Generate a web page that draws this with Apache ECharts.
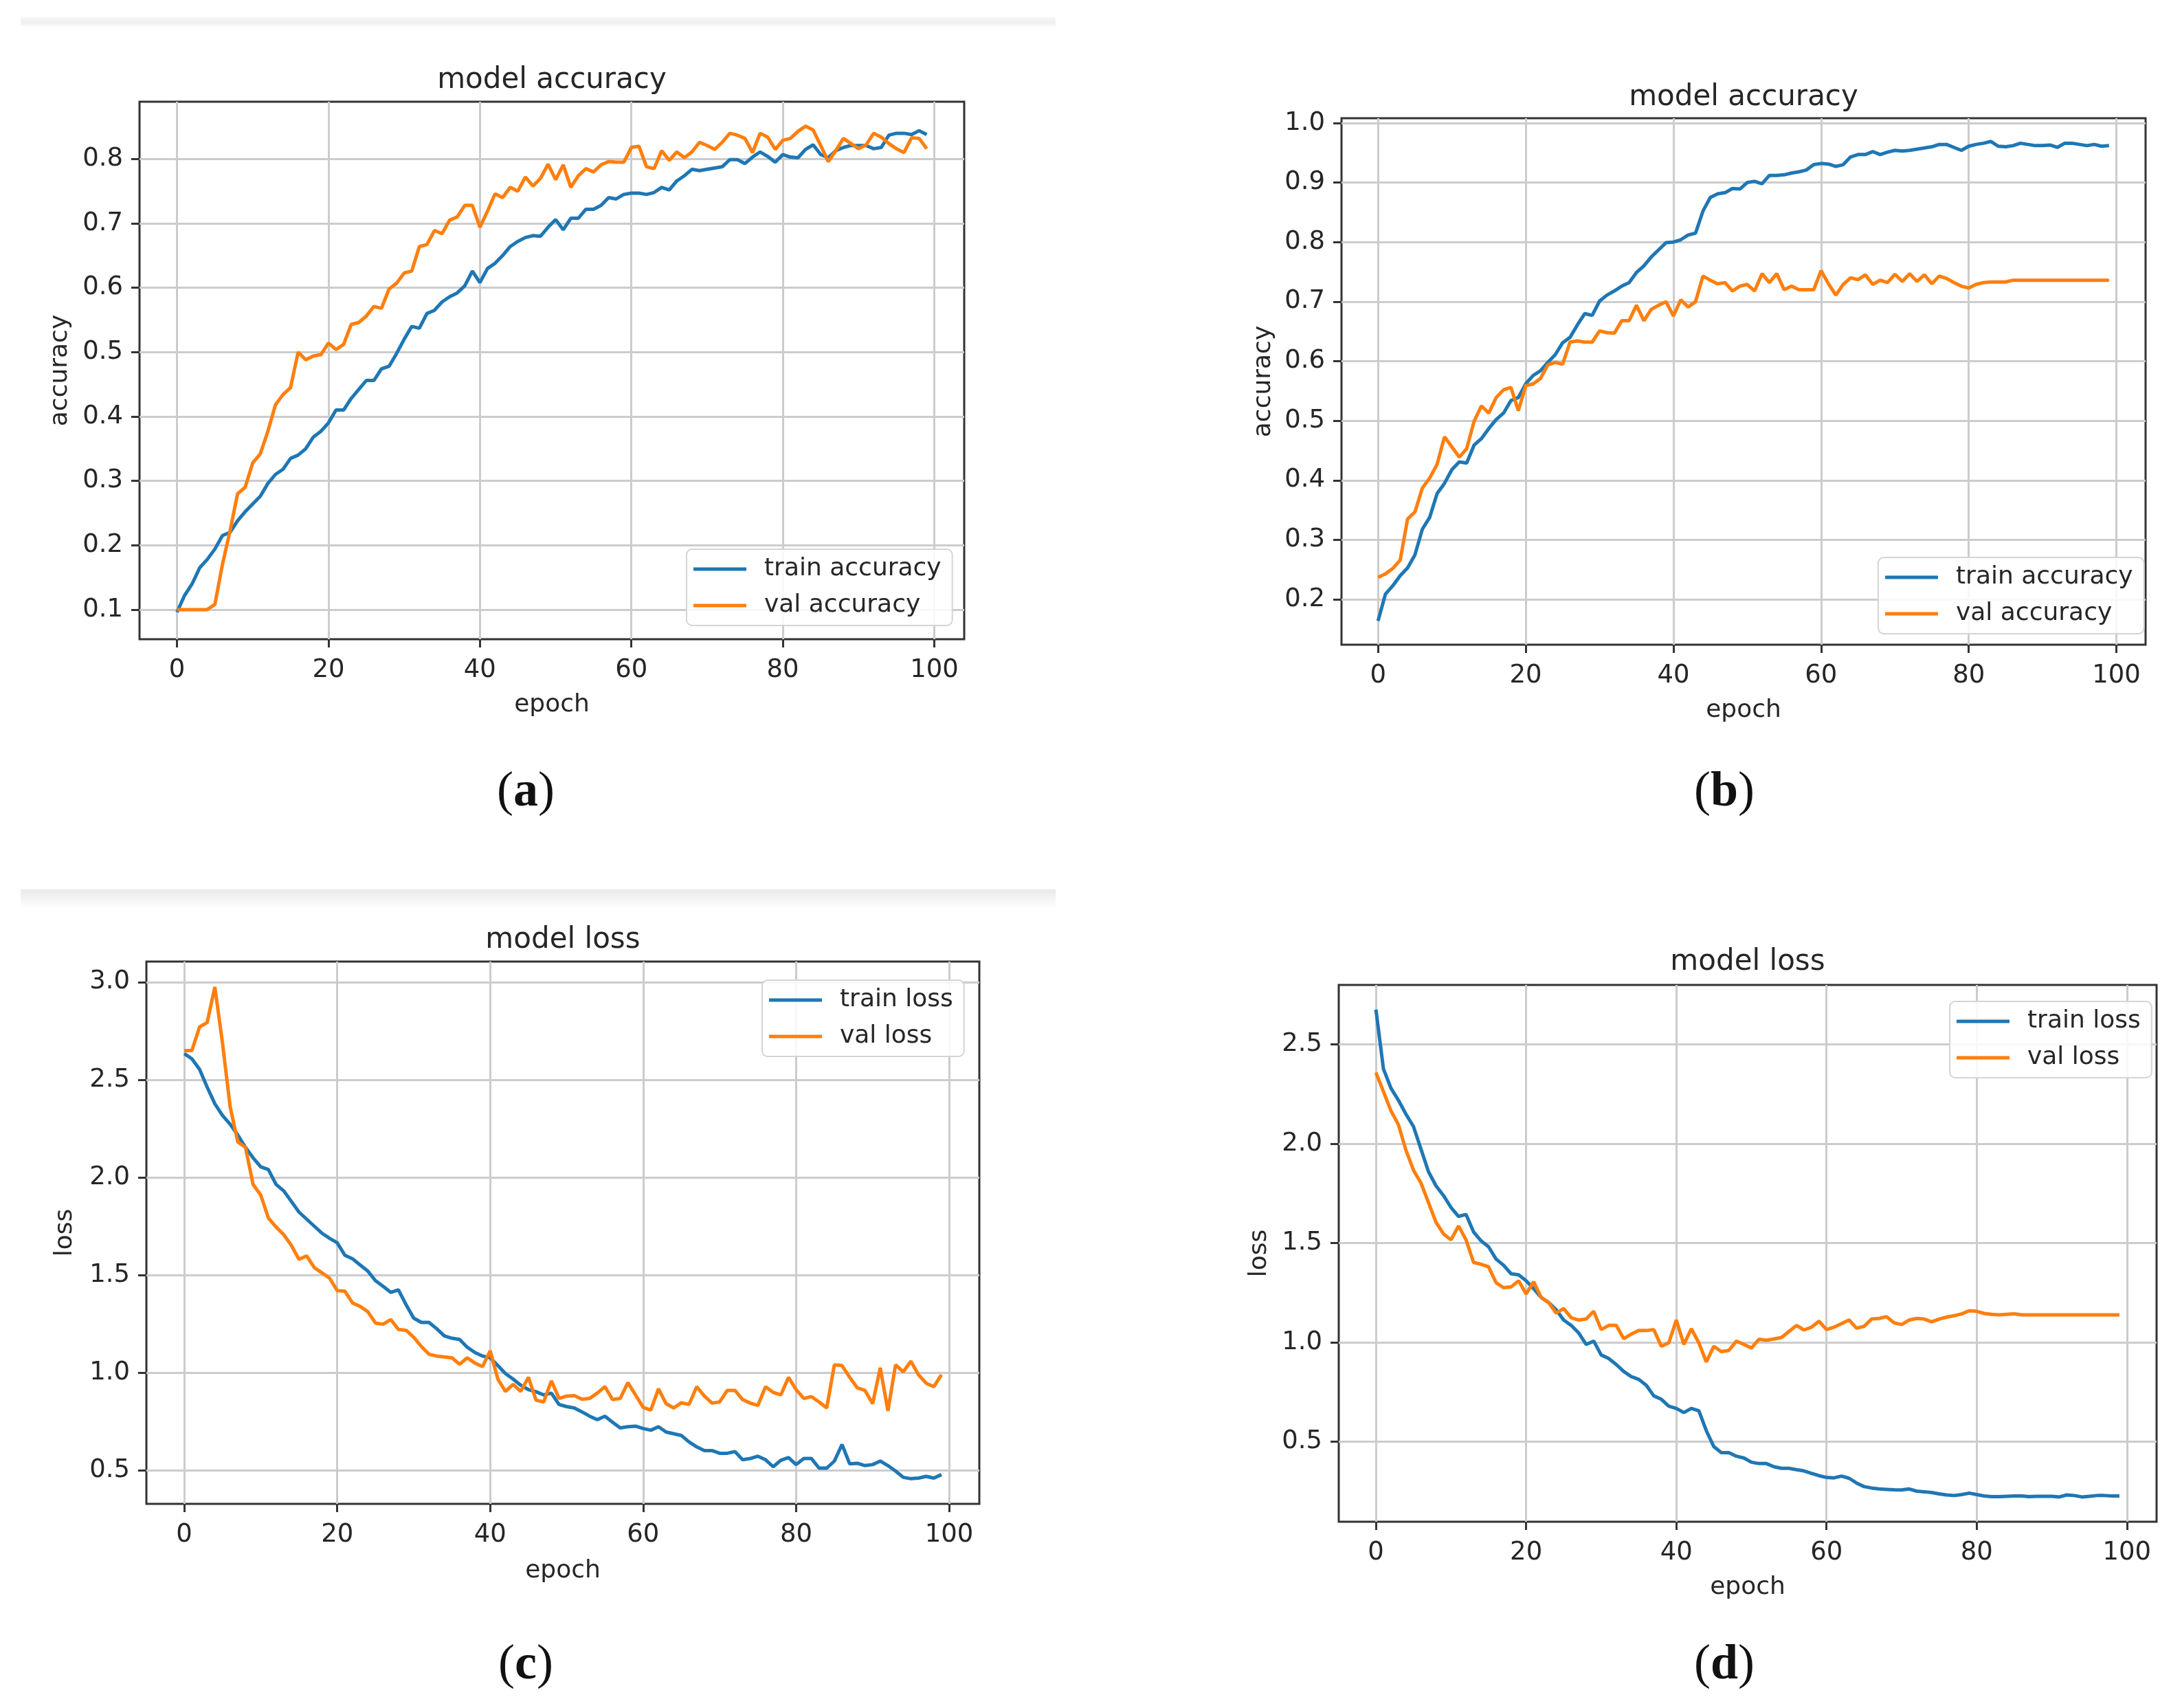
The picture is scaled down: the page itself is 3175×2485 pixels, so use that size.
<!DOCTYPE html>
<html>
<head>
<meta charset="utf-8">
<script src="https://cdn.jsdelivr.net/npm/echarts@6/dist/echarts.min.js"></script>
<style>
html,body{margin:0;padding:0;background:#ffffff;}
#chart{width:3175px;height:2485px;}
</style>
</head>
<body>
<div id="chart"></div>
<script>
// ---------- data ----------
const epochs = Array.from({length: 100}, (_, i) => i);
const xTicks = [0, 20, 40, 60, 80, 100];
const yTicksA = [0.1, 0.2, 0.3, 0.4, 0.5, 0.6, 0.7, 0.8];
const yTicksB = [0.2, 0.3, 0.4, 0.5, 0.6, 0.7, 0.8, 0.9, 1.0];
const yTicksC = [0.5, 1.0, 1.5, 2.0, 2.5, 3.0];
const yTicksD = [0.5, 1.0, 1.5, 2.0, 2.5];

const accTrainA = [
 0.096,0.122,0.140,0.165,0.178,0.194,0.215,0.220,0.238,0.252,
 0.264,0.276,0.296,0.310,0.318,0.335,0.340,0.350,0.368,0.377,
 0.390,0.410,0.410,0.428,0.442,0.456,0.456,0.474,0.478,0.498,
 0.520,0.540,0.537,0.560,0.565,0.578,0.586,0.592,0.603,0.626,
 0.608,0.630,0.638,0.650,0.664,0.672,0.678,0.681,0.680,0.694,
 0.706,0.690,0.708,0.708,0.722,0.722,0.728,0.740,0.738,0.745,
 0.747,0.747,0.745,0.748,0.756,0.752,0.766,0.774,0.784,0.782,
 0.784,0.786,0.788,0.799,0.799,0.793,0.803,0.811,0.804,0.795,
 0.807,0.803,0.802,0.815,0.822,0.807,0.802,0.813,0.818,0.821,
 0.821,0.821,0.816,0.818,0.837,0.840,0.840,0.838,0.844,0.838
];
const accValA = [
 0.100,0.100,0.100,0.100,0.100,0.108,0.170,0.222,0.280,0.290,
 0.328,0.342,0.377,0.418,0.434,0.445,0.500,0.488,0.494,0.496,
 0.514,0.504,0.512,0.543,0.546,0.556,0.571,0.568,0.598,0.607,
 0.623,0.626,0.664,0.667,0.689,0.684,0.705,0.710,0.728,0.728,
 0.694,0.719,0.746,0.740,0.756,0.750,0.772,0.758,0.770,0.792,
 0.768,0.791,0.756,0.774,0.785,0.780,0.791,0.796,0.795,0.795,
 0.818,0.820,0.788,0.785,0.813,0.798,0.811,0.802,0.811,0.826,
 0.821,0.815,0.826,0.840,0.837,0.832,0.810,0.840,0.834,0.815,
 0.829,0.832,0.843,0.851,0.845,0.821,0.796,0.813,0.832,0.824,
 0.816,0.822,0.840,0.834,0.824,0.816,0.810,0.833,0.832,0.816
];
const accTrainB = [
 0.164,0.209,0.223,0.240,0.253,0.275,0.318,0.338,0.378,0.395,
 0.418,0.431,0.429,0.459,0.470,0.487,0.502,0.513,0.534,0.539,
 0.562,0.576,0.584,0.598,0.611,0.631,0.640,0.661,0.680,0.677,
 0.701,0.711,0.718,0.726,0.732,0.749,0.760,0.775,0.787,0.799,
 0.800,0.804,0.812,0.815,0.852,0.875,0.881,0.883,0.890,0.889,
 0.900,0.902,0.898,0.912,0.912,0.913,0.916,0.918,0.921,0.930,
 0.932,0.931,0.927,0.930,0.943,0.947,0.947,0.952,0.947,0.951,
 0.954,0.953,0.954,0.956,0.958,0.960,0.964,0.964,0.959,0.954,
 0.961,0.964,0.966,0.969,0.961,0.960,0.962,0.966,0.964,0.962,
 0.962,0.963,0.959,0.966,0.966,0.964,0.962,0.964,0.961,0.962
];
const accValB = [
 0.237,0.243,0.252,0.266,0.335,0.347,0.387,0.404,0.427,0.473,
 0.456,0.439,0.453,0.499,0.525,0.513,0.539,0.552,0.556,0.517,
 0.559,0.562,0.571,0.594,0.598,0.595,0.632,0.634,0.632,0.632,
 0.651,0.648,0.647,0.668,0.668,0.694,0.668,0.687,0.694,0.700,
 0.676,0.703,0.691,0.700,0.743,0.736,0.730,0.732,0.718,0.726,
 0.729,0.718,0.747,0.732,0.747,0.720,0.726,0.720,0.720,0.720,
 0.752,0.730,0.711,0.729,0.740,0.737,0.745,0.729,0.736,0.732,
 0.746,0.734,0.747,0.734,0.745,0.730,0.743,0.739,0.732,0.726,
 0.723,0.729,0.732,0.733,0.733,0.733,0.736,0.736,0.736,0.736,
 0.736,0.736,0.736,0.736,0.736,0.736,0.736,0.736,0.736,0.736
];
const lossTrainC = [
 2.634,2.607,2.553,2.462,2.377,2.317,2.272,2.217,2.154,2.100,
 2.054,2.040,1.964,1.931,1.877,1.822,1.786,1.750,1.714,1.688,
 1.665,1.601,1.583,1.551,1.520,1.471,1.442,1.411,1.424,1.348,
 1.279,1.257,1.257,1.225,1.188,1.176,1.170,1.130,1.103,1.085,
 1.076,1.036,0.995,0.967,0.935,0.913,0.902,0.886,0.895,0.837,
 0.826,0.819,0.799,0.777,0.759,0.777,0.746,0.717,0.723,0.726,
 0.714,0.705,0.723,0.696,0.687,0.678,0.645,0.620,0.601,0.601,
 0.587,0.587,0.596,0.554,0.560,0.572,0.554,0.518,0.551,0.565,
 0.529,0.560,0.560,0.511,0.511,0.547,0.632,0.533,0.536,0.524,
 0.529,0.547,0.524,0.496,0.464,0.457,0.460,0.469,0.460,0.478
];
const lossValC = [
 2.649,2.649,2.770,2.793,2.975,2.688,2.362,2.181,2.154,1.964,
 1.909,1.792,1.746,1.707,1.652,1.580,1.598,1.538,1.511,1.484,
 1.420,1.417,1.357,1.339,1.312,1.254,1.248,1.272,1.221,1.217,
 1.181,1.134,1.094,1.085,1.080,1.076,1.043,1.076,1.049,1.031,
 1.112,0.967,0.904,0.940,0.904,0.976,0.859,0.850,0.958,0.868,
 0.880,0.882,0.864,0.868,0.895,0.928,0.862,0.868,0.949,0.886,
 0.822,0.808,0.917,0.841,0.819,0.846,0.837,0.928,0.880,0.844,
 0.850,0.909,0.909,0.862,0.844,0.832,0.928,0.899,0.886,0.976,
 0.913,0.868,0.877,0.850,0.819,1.040,1.036,0.976,0.922,0.909,
 0.841,1.025,0.804,1.040,1.004,1.058,0.989,0.946,0.928,0.989
];
const lossTrainD = [
 2.676,2.377,2.280,2.219,2.149,2.087,1.973,1.859,1.788,1.739,
 1.679,1.634,1.644,1.556,1.511,1.481,1.419,1.388,1.345,1.340,
 1.310,1.270,1.226,1.200,1.164,1.112,1.085,1.047,0.989,1.006,
 0.936,0.918,0.888,0.853,0.827,0.813,0.783,0.730,0.713,0.678,
 0.667,0.646,0.667,0.655,0.554,0.474,0.444,0.444,0.426,0.417,
 0.396,0.389,0.389,0.373,0.365,0.365,0.358,0.352,0.340,0.328,
 0.319,0.317,0.326,0.315,0.291,0.273,0.266,0.261,0.259,0.257,
 0.256,0.261,0.250,0.247,0.243,0.236,0.231,0.228,0.233,0.240,
 0.233,0.226,0.222,0.222,0.224,0.226,0.226,0.222,0.224,0.224,
 0.224,0.221,0.231,0.228,0.221,0.224,0.228,0.228,0.226,0.226
];
const lossValD = [
 2.359,2.263,2.166,2.096,1.967,1.867,1.802,1.704,1.604,1.546,
 1.516,1.586,1.516,1.402,1.393,1.380,1.300,1.275,1.279,1.310,
 1.243,1.305,1.226,1.200,1.147,1.170,1.124,1.112,1.117,1.156,
 1.064,1.085,1.085,1.018,1.041,1.059,1.059,1.064,0.980,0.997,
 1.112,0.989,1.068,0.997,0.901,0.980,0.953,0.959,1.006,0.989,
 0.971,1.015,1.010,1.017,1.024,1.054,1.085,1.062,1.076,1.106,
 1.064,1.076,1.094,1.112,1.071,1.080,1.117,1.120,1.129,1.098,
 1.089,1.112,1.120,1.117,1.103,1.117,1.127,1.134,1.143,1.159,
 1.156,1.145,1.141,1.138,1.141,1.143,1.138,1.138,1.138,1.138,
 1.138,1.138,1.138,1.138,1.138,1.138,1.138,1.138,1.138,1.138
];

// ---------- layout / style ----------
const FONT = 'DejaVu Sans';
const TXT = '#262626';
const BLUE = '#1f77b4';
const ORANGE = '#ff7f0e';

const panels = [
  { title: 'model accuracy', yName: 'accuracy', names: ['train accuracy', 'val accuracy'],
    train: accTrainA, val: accValA, yTicks: yTicksA, yMin: 0.054, yMax: 0.889,
    grid: {left: 203, top: 148, width: 1200, height: 782},
    titleY: 119, legend: {left: 999, top: 799}, tag: 'a', tagPos: [765, 1153], yGap: 97, xGap: 78 },
  { title: 'model accuracy', yName: 'accuracy', names: ['train accuracy', 'val accuracy'],
    train: accTrainB, val: accValB, yTicks: yTicksB, yMin: 0.124, yMax: 1.008,
    grid: {left: 1952, top: 172, width: 1170, height: 766},
    titleY: 144, legend: {left: 2733, top: 811}, tag: 'b', tagPos: [2509, 1153], yGap: 95, xGap: 78 },
  { title: 'model loss', yName: 'loss', names: ['train loss', 'val loss'],
    train: lossTrainC, val: lossValC, yTicks: yTicksC, yMin: 0.328, yMax: 3.105,
    grid: {left: 213, top: 1399, width: 1212, height: 789},
    titleY: 1370, legend: {left: 1109, top: 1426}, tag: 'c', tagPos: [765, 2423], yGap: 100, xGap: 80 },
  { title: 'model loss', yName: 'loss', names: ['train loss', 'val loss'],
    train: lossTrainD, val: lossValD, yTicks: yTicksD, yMin: 0.096, yMax: 2.8,
    grid: {left: 1948, top: 1433, width: 1190, height: 781},
    titleY: 1402, legend: {left: 2837, top: 1457}, tag: 'd', tagPos: [2509, 2423], yGap: 97, xGap: 78 }
];

const option = {
  animation: false,
  backgroundColor: '#ffffff',
  title: [], grid: [], xAxis: [], yAxis: [], legend: [], series: [],
  graphic: [
    { type: 'rect', shape: {x: 30, y: 25, width: 1506, height: 13},
      style: {fill: new echarts.graphic.LinearGradient(0, 0, 0, 1, [
        {offset: 0, color: '#f7f7f7'}, {offset: 0.5, color: '#efefef'}, {offset: 1, color: '#f7f7f7'}])}, silent: true },
    { type: 'rect', shape: {x: 30, y: 1294, width: 1506, height: 28},
      style: {fill: new echarts.graphic.LinearGradient(0, 0, 0, 1, [
        {offset: 0, color: '#e9e9e9'}, {offset: 1, color: '#ffffff'}])}, silent: true }
  ]
};

panels.forEach((p, k) => {
  const g = p.grid;
  option.grid.push({ left: g.left, top: g.top, width: g.width, height: g.height,
    containLabel: false, show: true, borderColor: '#333333', borderWidth: 3, backgroundColor: '#ffffff' });

  option.title.push({ text: p.title, left: g.left + g.width / 2, top: p.titleY - 23,
    textAlign: 'center', textVerticalAlign: 'top', padding: 0,
    textStyle: {fontFamily: FONT, fontSize: 42, fontWeight: 'normal', color: TXT} });

  option.xAxis.push({ type: 'value', gridIndex: k, min: -4.95, max: 103.95,
    name: 'epoch', nameLocation: 'middle', nameGap: p.xGap,
    nameTextStyle: {fontFamily: FONT, fontSize: 36, color: TXT},
    axisLine: {show: false, onZero: false},
    axisTick: {show: true, inside: false, length: 12, customValues: xTicks,
      lineStyle: {color: '#333333', width: 3}},
    axisLabel: {show: true, margin: 27, customValues: xTicks,
      fontFamily: FONT, fontSize: 37, color: TXT, formatter: v => String(Math.round(v))},
    splitLine: {show: true, lineStyle: {color: '#cccccc', width: 3}} });

  option.yAxis.push({ type: 'value', gridIndex: k, min: p.yMin, max: p.yMax,
    name: p.yName, nameLocation: 'middle', nameGap: p.yGap,
    nameTextStyle: {fontFamily: FONT, fontSize: 36, color: TXT},
    axisLine: {show: false, onZero: false},
    axisTick: {show: true, inside: false, length: 12, customValues: p.yTicks,
      lineStyle: {color: '#333333', width: 3}},
    axisLabel: {show: true, margin: 24, customValues: p.yTicks,
      fontFamily: FONT, fontSize: 37, color: TXT, formatter: v => v.toFixed(1)},
    splitLine: {show: true, lineStyle: {color: '#cccccc', width: 3}} });

  option.legend.push({ left: p.legend.left, top: p.legend.top, orient: 'vertical',
    data: p.names, icon: 'rect', itemWidth: 77, itemHeight: 5, itemGap: 11,
    padding: [8, 16, 8, 10], borderColor: '#d4d4d4', borderWidth: 2, borderRadius: 8,
    backgroundColor: 'rgba(255,255,255,0.85)', selectedMode: false,
    textStyle: {fontFamily: FONT, fontSize: 36, color: TXT, lineHeight: 42, padding: [0, 0, 0, 21]} });

  option.series.push({ type: 'line', name: p.names[0], xAxisIndex: k, yAxisIndex: k,
    data: epochs.map((e, i) => [e, p.train[i]]), showSymbol: false, symbol: 'none',
    lineStyle: {width: 5, color: BLUE}, itemStyle: {color: BLUE}, z: 3 });
  option.series.push({ type: 'line', name: p.names[1], xAxisIndex: k, yAxisIndex: k,
    data: epochs.map((e, i) => [e, p.val[i]]), showSymbol: false, symbol: 'none',
    lineStyle: {width: 5, color: ORANGE}, itemStyle: {color: ORANGE}, z: 4 });

  option.graphic.push({ type: 'text', x: p.tagPos[0], y: p.tagPos[1], silent: true,
    style: { text: '{p|(}{b|' + p.tag + '}{p|)}', align: 'center', verticalAlign: 'middle',
      rich: { p: {fontFamily: 'Liberation Serif', fontSize: 72, fill: '#111'},
              b: {fontFamily: 'Liberation Serif', fontSize: 72, fontWeight: 'bold', fill: '#111'} } } });
});

const chart = echarts.init(document.getElementById('chart'), null, {renderer: 'canvas'});
chart.setOption(option);
</script>
</body>
</html>
